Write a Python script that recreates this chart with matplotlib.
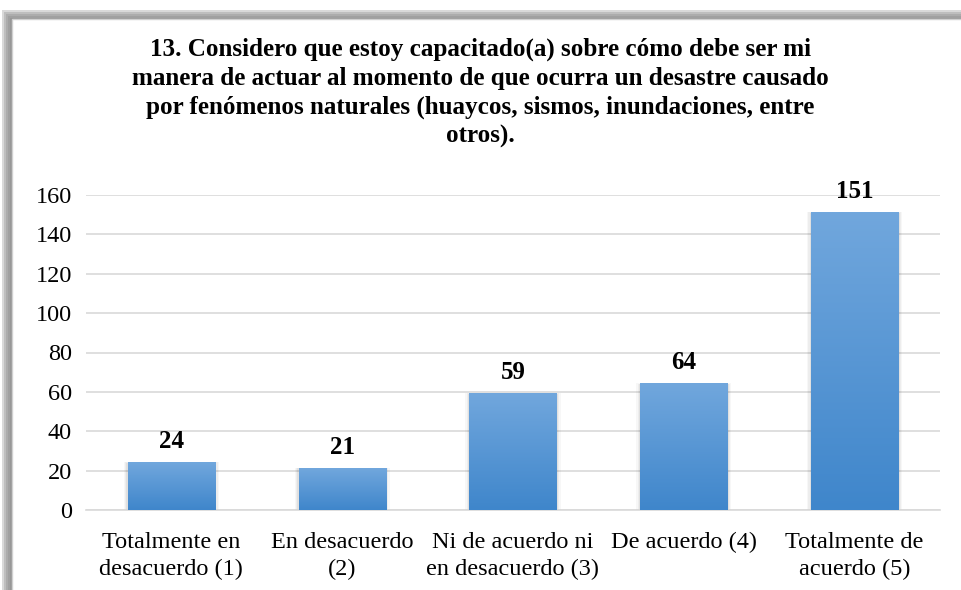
"""Bar chart: survey item 13, Likert responses (Excel-like styling)."""
import numpy as np
import matplotlib
matplotlib.use("Agg")
import matplotlib.pyplot as plt
from matplotlib.patches import Rectangle
from matplotlib.colors import LinearSegmentedColormap

plt.rcParams.update({
    "font.family": ["Liberation Serif", "DejaVu Serif"],
    "font.size": 17.5,
})

categories = [
    "Totalmente en\ndesacuerdo (1)",
    "En desacuerdo\n(2)",
    "Ni de acuerdo ni\nen desacuerdo (3)",
    "De acuerdo (4)",
    "Totalmente de\nacuerdo (5)",
]
counts = [24, 21, 59, 64, 151]
yticks = [0, 20, 40, 60, 80, 100, 120, 140, 160]
title = ("13. Considero que estoy capacitado(a) sobre cómo debe ser mi\n"
         "manera de actuar al momento de que ocurra un desastre causado\n"
         "por fenómenos naturales (huaycos, sismos, inundaciones, entre\n"
         "otros).")

W, H = 961, 590
fig = plt.figure(figsize=(W / 100, H / 100), dpi=100)

# frame with soft shadow on top/left
for i, a in enumerate([0.05, 0.07, 0.09, 0.12, 0.15]):
    off = 10 - 2 * i
    fig.patches.append(Rectangle((off / W, 0), 1, 1 - (18 - 2 * i) / H,
                                 transform=fig.transFigure, facecolor="black",
                                 alpha=a, edgecolor="none", zorder=0))
fig.patches.append(Rectangle((12 / W, -0.1), 1.2, 1 - 19 / H + 0.1,
                             transform=fig.transFigure, facecolor="white",
                             edgecolor="#d0d0d0", linewidth=1, zorder=1))

ax = fig.add_axes([86 / W, 1 - 510 / H, 854 / W, 315 / H])
ax.set_facecolor("none")
ax.set_zorder(2)

cmap = LinearSegmentedColormap.from_list("bar", ["#3f86cb", "#71a7dd"])
grad = np.linspace(0, 1, 256).reshape(-1, 1)
bw = 0.51
x = np.arange(len(categories))
for xi, v in zip(x, counts):
    # subtle outer shadow
    for k, a in enumerate([0.05, 0.04, 0.03]):
        d = 0.008 * (k + 1)
        ax.add_patch(Rectangle((xi - bw / 2 - d, 0), bw + 2 * d, v + d * 12,
                               facecolor="black", alpha=a, edgecolor="none",
                               zorder=2))
    ax.imshow(grad, extent=[xi - bw / 2, xi + bw / 2, 0, v], origin="lower",
              aspect="auto", cmap=cmap, zorder=3)
    ax.text(xi, v + 5, str(v), ha="center", va="bottom", fontsize=18,
            fontweight="bold", zorder=4)

ax.set_xlim(-0.5, len(categories) - 0.5)
ax.set_ylim(0, 160)
ax.set_yticks(yticks)
ax.set_xticks(x)
ax.set_xticklabels(categories, fontsize=17.5, linespacing=1.38)
ax.tick_params(axis="both", length=0, labelsize=17.5)
ax.tick_params(axis="y", pad=10)
ax.tick_params(axis="x", pad=16)
ax.grid(axis="y", color="#d9d9d9", linewidth=1.2, zorder=1)
ax.set_axisbelow(True)
for s in ["top", "right", "left"]:
    ax.spines[s].set_visible(False)
ax.spines["bottom"].set_color("#d9d9d9")
ax.spines["bottom"].set_linewidth(1.2)

fig.text(0.5, 1 - 93 / H, title, ha="center", va="center", fontsize=18.1,
         fontweight="bold", linespacing=1.32, zorder=5)

fig.savefig("out.png", dpi=100)
